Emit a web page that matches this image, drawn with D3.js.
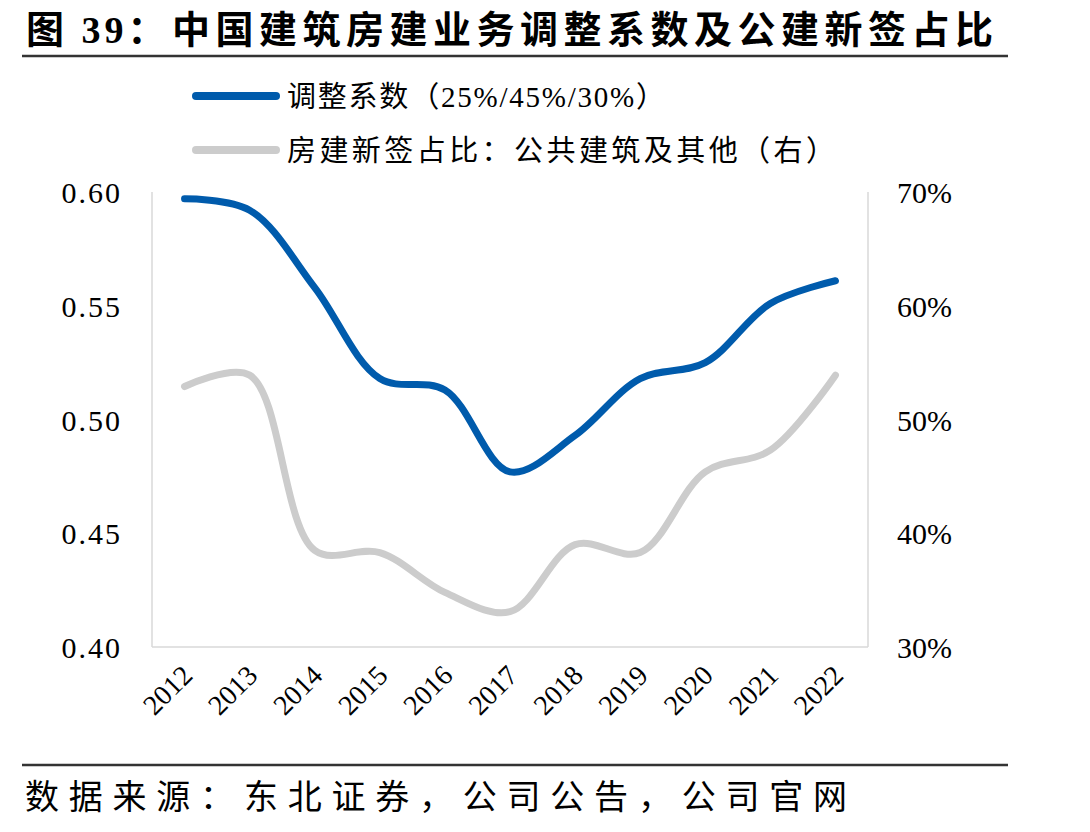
<!DOCTYPE html>
<html>
<head>
<meta charset="utf-8">
<script src="https://cdn.jsdelivr.net/npm/d3@7"></script>
<style>
  body { margin: 0; background: #fff; }
  text { font-family: "Liberation Serif", "Noto Sans CJK SC", serif; fill: #000; }
</style>
</head>
<body>
<div id="chart"></div>
<script>
const years = ["2012","2013","2014","2015","2016","2017","2018","2019","2020","2021","2022"];
const coef = [0.597, 0.592, 0.558, 0.518, 0.513, 0.477, 0.493, 0.518, 0.525, 0.551, 0.561];
const share = [0.529, 0.539, 0.385, 0.383, 0.348, 0.331, 0.390, 0.383, 0.454, 0.473, 0.539];
const leftTicks = [0.40, 0.45, 0.50, 0.55, 0.60];
const rightTicks = [0.30, 0.40, 0.50, 0.60, 0.70];

const W = 1090, H = 832;
const M = { LEFT: 152, RIGHT: 222, TOP: 192, BOTTOM: 185 };
const width = W - M.LEFT - M.RIGHT;
const height = H - M.TOP - M.BOTTOM;

const svg = d3.select("#chart").append("svg")
    .attr("width", W)
    .attr("height", H);

// title + rule
const title = svg.append("text")
    .attr("x", 26).attr("y", 43)
    .attr("font-size", "38px")
    .attr("font-weight", "bold");
title.append("tspan").attr("letter-spacing", "4px").text("图 39：");
title.append("tspan")
    .attr("x", 172)
    .attr("textLength", 821)
    .attr("lengthAdjust", "spacing")
    .text("中国建筑房建业务调整系数及公建新签占比");
svg.append("line")
    .attr("x1", 22).attr("x2", 1008)
    .attr("y1", 56).attr("y2", 56)
    .attr("stroke", "#333").attr("stroke-width", 2.5);

// legend
const legend = [
    { label: "调整系数（25%/45%/30%）", color: "#005BAC", y: 96, len: 378 },
    { label: "房建新签占比：公共建筑及其他（右）", color: "#CCCCCC", y: 150, len: 548 }
];
legend.forEach(d => {
    svg.append("line")
        .attr("x1", 196).attr("x2", 276)
        .attr("y1", d.y).attr("y2", d.y)
        .attr("stroke", d.color).attr("stroke-width", 8)
        .attr("stroke-linecap", "round");
    svg.append("text")
        .attr("x", 287).attr("y", d.y + 11)
        .attr("font-size", "29px")
        .attr("textLength", d.len)
        .attr("lengthAdjust", "spacing")
        .text(d.label);
});

const g = svg.append("g")
    .attr("transform", `translate(${M.LEFT}, ${M.TOP})`);

const x = d3.scalePoint()
    .domain(years)
    .range([0, width])
    .padding(0.5);

const yL = d3.scaleLinear().domain([0.40, 0.60]).range([height, 0]);
const yR = d3.scaleLinear().domain([0.30, 0.70]).range([height, 0]);

// frame lines
g.append("line").attr("x1", 0).attr("x2", 0).attr("y1", 0).attr("y2", height)
    .attr("stroke", "#d9d9d9").attr("stroke-width", 1.5);
g.append("line").attr("x1", width).attr("x2", width).attr("y1", 0).attr("y2", height)
    .attr("stroke", "#d9d9d9").attr("stroke-width", 1.5);
g.append("line").attr("x1", 0).attr("x2", width).attr("y1", height).attr("y2", height)
    .attr("stroke", "#d9d9d9").attr("stroke-width", 1.5);

// axes
const axL = g.append("g")
    .call(d3.axisLeft(yL).tickValues(leftTicks).tickFormat(d3.format(".2f")).tickSize(0).tickPadding(30));
const axR = g.append("g")
    .attr("transform", `translate(${width}, 0)`)
    .call(d3.axisRight(yR).tickValues(rightTicks).tickFormat(d3.format(".0%")).tickSize(0).tickPadding(29));
const axX = g.append("g")
    .attr("transform", `translate(0, ${height})`)
    .call(d3.axisBottom(x).tickSize(0).tickPadding(0));

[axL, axR, axX].forEach(a => {
    a.select(".domain").remove();
    a.selectAll("text")
        .attr("font-size", "30px")
        .attr("font-family", "Liberation Serif")
        .attr("fill", "#000");
});
axL.selectAll("text").attr("letter-spacing", "2px").attr("dy", "0.35em");
axR.selectAll("text").attr("dy", "0.35em");
axX.selectAll("text")
    .attr("font-size", "28px")
    .attr("text-anchor", "end")
    .attr("dy", "0")
    .attr("y", 0)
    .attr("transform", "translate(9, 30) rotate(-45)");

const curve = d3.curveCatmullRom.alpha(0.5);

g.append("path")
    .datum(share)
    .attr("fill", "none")
    .attr("stroke", "#CCCCCC")
    .attr("stroke-width", 7)
    .attr("stroke-linecap", "round")
    .attr("d", d3.line().x((d, i) => x(years[i])).y(d => yR(d)).curve(curve));

g.append("path")
    .datum(coef)
    .attr("fill", "none")
    .attr("stroke", "#005BAC")
    .attr("stroke-width", 7)
    .attr("stroke-linecap", "round")
    .attr("d", d3.line().x((d, i) => x(years[i])).y(d => yL(d)).curve(curve));

// footer
svg.append("line")
    .attr("x1", 22).attr("x2", 1008)
    .attr("y1", 765).attr("y2", 765)
    .attr("stroke", "#333").attr("stroke-width", 2.5);
svg.append("text")
    .attr("x", 25).attr("y", 809)
    .attr("font-size", "34px")
    .attr("textLength", 822)
    .attr("lengthAdjust", "spacing")
    .text("数据来源：东北证券，公司公告，公司官网");
</script>
</body>
</html>
